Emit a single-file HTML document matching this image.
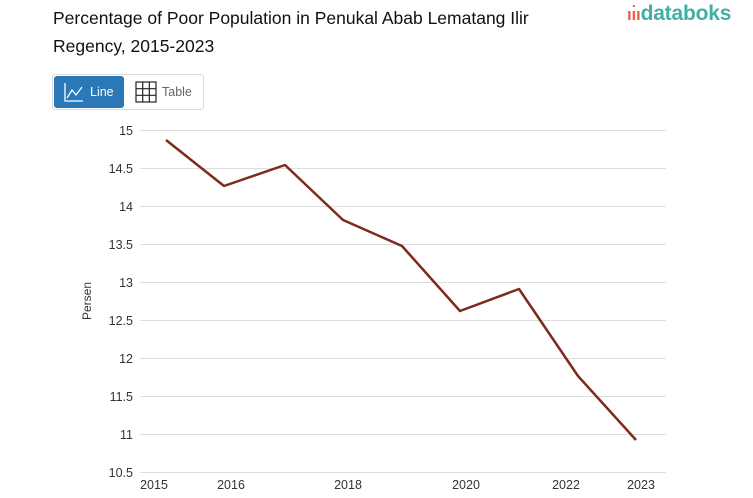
<!DOCTYPE html>
<html><head><meta charset="utf-8"><style>
body{margin:0;width:753px;height:498px;background:#fff;font-family:"Liberation Sans",sans-serif;overflow:hidden;position:relative}
.t{position:absolute;left:53px;top:4px;font-size:17.5px;line-height:28px;color:#111;width:530px}
.logo{position:absolute;left:627px;top:2px;font-size:21px;color:#3fb0a6;font-weight:bold;letter-spacing:-0.2px}
.btns{position:absolute;left:52px;top:74px;width:150px;height:34px;border:1px solid #ddd;border-radius:3px}
.b1{position:absolute;left:1px;top:1px;width:70px;height:32px;background:#2a78b8;border-radius:3px;color:#fff;font-size:12.5px}
.b2{position:absolute;left:80px;top:1px;font-size:12.5px;color:#666}
</style></head><body>
<div class="t">Percentage of Poor Population in Penukal Abab Lematang Ilir Regency, 2015-2023</div>
<div class="logo"><span style="color:#e8604c;font-size:17px">ıı̇ı</span>databoks</div>
<div class="btns">
<div class="b1"><svg style="position:absolute;left:10px;top:6px" width="20" height="20"><path d="M1 1V19H19" stroke="#fff" fill="none" stroke-width="1.3"/><path d="M3 16L8 8L12 13L18 5" stroke="#fff" fill="none" stroke-width="1.3"/></svg><span style="position:absolute;left:36px;top:9px">Line</span></div>
<div class="b2"><svg style="position:absolute;left:2px;top:5px" width="22" height="22"><rect x="1" y="1" width="20" height="20" fill="none" stroke="#222" stroke-width="1.2"/><path d="M7.7 1V21M14.3 1V21M1 7.7H21M1 14.3H21" stroke="#222" stroke-width="1.2"/></svg><span style="position:absolute;left:29px;top:9px">Table</span></div>
</div>
<svg width="753" height="498" style="position:absolute;left:0;top:0" font-family="Liberation Sans,sans-serif" font-size="12.5" fill="#333">
<g stroke="#ddd" stroke-width="1">
<line x1="140" x2="666" y1="130.5" y2="130.5"/><line x1="140" x2="666" y1="168.5" y2="168.5"/><line x1="140" x2="666" y1="206.5" y2="206.5"/><line x1="140" x2="666" y1="244.5" y2="244.5"/><line x1="140" x2="666" y1="282.5" y2="282.5"/><line x1="140" x2="666" y1="320.5" y2="320.5"/><line x1="140" x2="666" y1="358.5" y2="358.5"/><line x1="140" x2="666" y1="396.5" y2="396.5"/><line x1="140" x2="666" y1="434.5" y2="434.5"/><line x1="140" x2="666" y1="472.5" y2="472.5"/>
</g>
<g text-anchor="end">
<text x="133" y="135">15</text><text x="133" y="173">14.5</text><text x="133" y="211">14</text><text x="133" y="249">13.5</text><text x="133" y="287">13</text><text x="133" y="325">12.5</text><text x="133" y="363">12</text><text x="133" y="401">11.5</text><text x="133" y="439">11</text><text x="133" y="477">10.5</text>
</g>
<text transform="translate(91,301) rotate(-90)" text-anchor="middle" font-size="12">Persen</text>
<g text-anchor="middle">
<text x="154" y="489">2015</text><text x="231" y="489">2016</text><text x="348" y="489">2018</text><text x="466" y="489">2020</text><text x="566" y="489">2022</text><text x="641" y="489">2023</text>
</g>
<polyline fill="none" stroke="#7e2a1c" stroke-width="2.5" stroke-linejoin="round" points="166,140 224,186 285,165 343,220 402,246 460,311 519,289 578,376 636,440"/>
</svg>
</body></html>
